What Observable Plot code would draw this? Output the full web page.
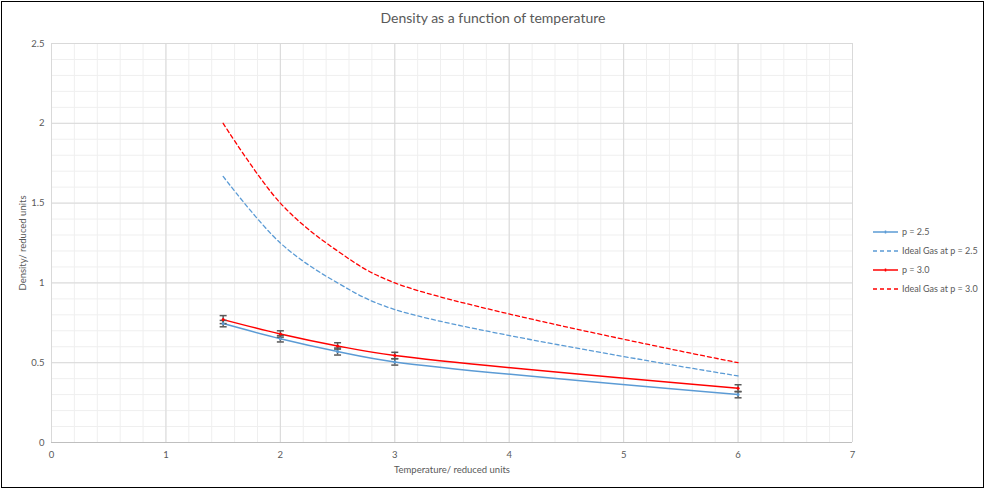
<!DOCTYPE html>
<html>
<head>
<meta charset="utf-8">
<script src="https://cdn.jsdelivr.net/npm/d3@7"></script>
<script src="https://cdn.jsdelivr.net/npm/@observablehq/plot@0.6"></script>
<style>
  html, body { margin: 0; padding: 0; background: #fff; }
  #wrap { position: relative; width: 986px; height: 491px; font-family: Lato, "Open Sans", sans-serif; color: #595959; }
  #frame { position: absolute; left: 1px; top: 1px; width: 981px; height: 485px; border: 1.5px solid #000; pointer-events: none; }
  #title { position: absolute; left: 0; width: 986px; top: 9px; text-align: center; font-size: 14px; color: #595959; }
  #legend { position: absolute; left: 872px; top: 222px; font-size: 9px; color: #595959; }
  .row { display: flex; align-items: center; height: 19px; }
  .row svg { margin-right: 3px; }
</style>
</head>
<body>
<div id="wrap">
  <div id="chart"></div>
  <div id="title">Density as a function of temperature</div>
  <div id="legend"></div>
  <div id="frame"></div>
</div>
<script>
// ---- data ----
const temps   = [1.5, 2, 2.5, 3, 6];
const rho25   = [0.745, 0.65, 0.57, 0.505, 0.30];
const err25   = [0.02, 0.02, 0.022, 0.02, 0.02];
const rho30   = [0.77, 0.68, 0.605, 0.545, 0.34];
const err30   = [0.025, 0.02, 0.02, 0.02, 0.022];
const ideal25 = [1.667, 1.25, 1.0, 0.833, 0.417];
const ideal30 = [2.0, 1.5, 1.2, 1.0, 0.5];
const xTicks  = [0, 1, 2, 3, 4, 5, 6, 7];
const yTicks  = [0, 0.5, 1, 1.5, 2, 2.5];
const seriesNames = ["p = 2.5", "Ideal Gas at p = 2.5", "p = 3.0", "Ideal Gas at p = 3.0"];

const blue = "#5B9BD5", red = "#FF0000", errCol = "#595959";

const toRows = (ys, errs) => temps.map((t, i) => ({t, v: ys[i], e: errs ? errs[i] : 0}));
const s25 = toRows(rho25, err25), s30 = toRows(rho30, err30);
const i25 = toRows(ideal25), i30 = toRows(ideal30);

const xMinor = d3.range(0, 7.0001, 0.2).map(d => +d.toFixed(2));
const yMinor = d3.range(0, 2.5001, 0.1).map(d => +d.toFixed(2));

const capSymbol = { draw(ctx, size) { const r = Math.sqrt(size / Math.PI); ctx.moveTo(-r, 0); ctx.lineTo(r, 0); } };

const errMarks = (rows) => [
  Plot.ruleX(rows, {x: "t", y1: d => d.v - d.e, y2: d => d.v + d.e, stroke: errCol, strokeWidth: 1.5}),
  Plot.dot(rows, {x: "t", y: d => d.v - d.e, symbol: capSymbol, r: 3.5, stroke: errCol, strokeWidth: 1.5}),
  Plot.dot(rows, {x: "t", y: d => d.v + d.e, symbol: capSymbol, r: 3.5, stroke: errCol, strokeWidth: 1.5})
];

const chart = Plot.plot({
  width: 986, height: 491,
  marginLeft: 51, marginRight: 134, marginTop: 43, marginBottom: 49,
  style: {fontFamily: "Lato, 'Open Sans', sans-serif", fontSize: "9.5px", color: "#595959", background: "transparent"},
  x: {domain: [0, 7]},
  y: {domain: [0, 2.5]},
  marks: [
    Plot.ruleX(xMinor, {stroke: "#efefef", strokeWidth: 1}),
    Plot.ruleY(yMinor, {stroke: "#efefef", strokeWidth: 1}),
    Plot.ruleX(xTicks, {stroke: "#d9d9d9", strokeWidth: 1}),
    Plot.ruleY(yTicks, {stroke: "#d9d9d9", strokeWidth: 1}),
    Plot.ruleY([0], {stroke: "#bfbfbf", strokeWidth: 1}),
    Plot.axisX({ticks: xTicks, tickSize: 0, tickPadding: 9, tickFormat: d => d, label: "Temperature/ reduced units", labelAnchor: "center", labelOffset: 30, labelArrow: "none"}),
    Plot.axisY({ticks: yTicks, tickSize: 0, tickPadding: 7, tickFormat: d => d, label: "Density/ reduced units", labelAnchor: "center", labelOffset: 32, labelArrow: "none"}),
    Plot.line(i25, {x: "t", y: "v", stroke: blue, strokeWidth: 1.3, strokeDasharray: "4,3", curve: "catmull-rom"}),
    Plot.line(i30, {x: "t", y: "v", stroke: red, strokeWidth: 1.3, strokeDasharray: "4,3", curve: "catmull-rom"}),
    Plot.line(s25, {x: "t", y: "v", stroke: blue, strokeWidth: 1.5, curve: "catmull-rom"}),
    Plot.line(s30, {x: "t", y: "v", stroke: red, strokeWidth: 1.5, curve: "catmull-rom"}),
    ...errMarks(s25),
    ...errMarks(s30),
    Plot.dot(s25, {x: "t", y: "v", r: 1.5, fill: blue}),
    Plot.dot(s30, {x: "t", y: "v", r: 1.5, fill: red})
  ]
});
document.getElementById("chart").append(chart);

// legend
const legendStyles = [
  {color: blue, dash: null, marker: true},
  {color: blue, dash: "4,3", marker: false},
  {color: red, dash: null, marker: true},
  {color: red, dash: "4,3", marker: false}
];
const legend = document.getElementById("legend");
seriesNames.forEach((name, i) => {
  const st = legendStyles[i];
  const row = document.createElement("div");
  row.className = "row";
  row.innerHTML = `<svg width="27" height="8"><line x1="1" x2="26" y1="4" y2="4" stroke="${st.color}" stroke-width="1.5" ${st.dash ? `stroke-dasharray="${st.dash}"` : ""}/>${st.marker ? `<line x1="13.5" x2="13.5" y1="2.5" y2="5.5" stroke="${st.color}" stroke-width="1.5"/>` : ""}</svg><span>${name}</span>`;
  legend.append(row);
});
</script>
</body>
</html>
